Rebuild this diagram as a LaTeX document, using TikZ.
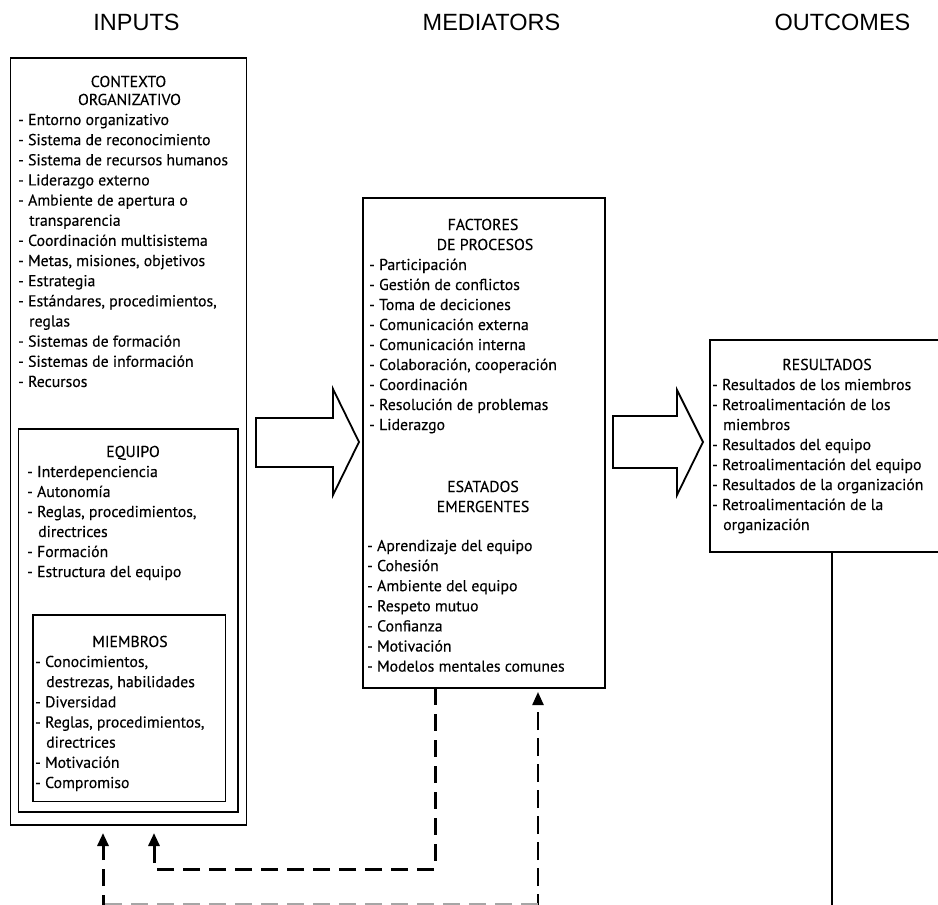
\documentclass[tikz,border=0pt]{standalone}
\usepackage{fontspec}
\setmainfont{PT Sans}[FakeBold=0.25]
\newfontfamily\headfont{Liberation Sans}
\usetikzlibrary{arrows.meta}
\begin{document}
\begin{tikzpicture}[x=1pt,y=-1pt,
  box/.style={draw, line width=1.3pt, inner sep=0pt},
  itm/.style={anchor=base west, inner sep=0pt, font=\fontsize{15.8}{18}\selectfont},
  ttl/.style={anchor=base, inner sep=0pt, font=\fontsize{15.8}{18}\selectfont},
  hdr/.style={anchor=base, inner sep=0pt, font=\headfont\fontsize{23.5}{28}\selectfont},
  fb/.style={line width=3pt, dash pattern=on 17pt off 9pt, -{Triangle[length=13pt,width=11pt]}},
  fbthin/.style={line width=2.3pt, dash pattern=on 18pt off 8pt, -{Triangle[length=13pt,width=11pt]}},
  blk/.style={line width=1.8pt, line join=miter}]
\useasboundingbox (0,0) rectangle (938,905);
% headers
\node[hdr] (hin) at (136.5,30) {INPUTS};
\node[hdr] (hme) at (491.5,30) {MEDIATORS};
\node[hdr] (hou) at (842.5,30) {OUTCOMES};
% boxes
\node[box, minimum width=236pt, minimum height=767pt] (ctx) at (128.5,441.5) {};
\node[box, minimum width=219.5pt, minimum height=383pt] (eq) at (128.25,620.5) {};
\node[box, minimum width=192.5pt, minimum height=186.5pt] (mie) at (129.25,708.25) {};
\node[box, minimum width=242pt, minimum height=490pt] (med) at (484,443) {};
\node[box, minimum width=250pt, minimum height=212pt] (res) at (835,446) {};
% titles
\node[ttl] (tctx1) at (128.5,87) {CONTEXTO};
\node[ttl] (tctx2) at (129.5,105) {ORGANIZATIVO};
\node[ttl] (teq) at (133,457) {EQUIPO};
\node[ttl] (tmie) at (130,647) {MIEMBROS};
\node[ttl] (tfac1) at (483,230) {FACTORES};
\node[ttl] (tfac2) at (485,250) {DE PROCESOS};
\node[ttl] (tem1) at (483,492) {ESATADOS};
\node[ttl] (tem2) at (483,512) {EMERGENTES};
\node[ttl] (tres) at (827,370) {RESULTADOS};
% items
\foreach \t [count=\i] in {{- Entorno organizativo},{- Sistema de reconocimiento},{- Sistema de recursos humanos},{- Liderazgo externo},{- Ambiente de apertura o},{\hspace*{11pt}transparencia},{- Coordinación multisistema},{- Metas, misiones, objetivos},{- Estrategia},{- Estándares, procedimientos,},{\hspace*{11pt}reglas},{- Sistemas de formación},{- Sistemas de información},{- Recursos}}
  \node[itm] (ci\i) at (18,{125+20.15*(\i-1)}) {\t};
\foreach \t [count=\i] in {{- Interdepenciencia},{- Autonomía},{- Reglas, procedimientos,},{\hspace*{11pt}directrices},{- Formación},{- Estructura del equipo}}
  \node[itm] (ei\i) at (27,{477+20*(\i-1)}) {\t};
\foreach \t [count=\i] in {{- Conocimientos,},{\hspace*{11pt}destrezas, habilidades},{- Diversidad},{- Reglas, procedimientos,},{\hspace*{11pt}directrices},{- Motivación},{- Compromiso}}
  \node[itm] (mi\i) at (35,{667+20.17*(\i-1)}) {\t};
\foreach \t [count=\i] in {{- Participación},{- Gestión de conflictos},{- Toma de deciciones},{- Comunicación externa},{- Comunicación interna},{- Colaboración, cooperación},{- Coordinación},{- Resolución de problemas},{- Liderazgo}}
  \node[itm] (fi\i) at (369,{270+20*(\i-1)}) {\t};
\foreach \t [count=\i] in {{- Aprendizaje del equipo},{- Cohesión},{- Ambiente del equipo},{- Respeto mutuo},{- Confianza},{- Motivación},{- Modelos mentales comunes}}
  \node[itm] (si\i) at (367,{551+20.1*(\i-1)}) {\t};
\foreach \t [count=\i] in {{- Resultados de los miembros},{- Retroalimentación de los},{\hspace*{11pt}miembros},{- Resultados del equipo},{- Retroalimentación del equipo},{- Resultados de la organización},{- Retroalimentación de la},{\hspace*{11pt}organización}}
  \node[itm] (ri\i) at (712,{390+20*(\i-1)}) {\t};
% block arrows
\draw[blk] (256,418) -- (333,418) -- (333,389) -- (359,442) -- (333,495) -- (333,467) -- (256,467) -- cycle;
\draw[blk] (613,416) -- (677,416) -- (677,390) -- (703,442) -- (677,495) -- (677,468) -- (613,468) -- cycle;
% feedback connectors
\coordinate (a1s) at (103,912);
\coordinate (a1e) at (103,833);
\coordinate (p1) at (435,688);
\coordinate (q1) at (435,869);
\coordinate (q2) at (154,869);
\coordinate (p2) at (154,833);
\coordinate (r1) at (538,912);
\coordinate (r2) at (538,692);
\coordinate (g1) at (538,904);
\coordinate (g2) at (103,904);
\coordinate (s1) at (832,552);
\coordinate (s2) at (832,912);
\draw[fb] (a1s) -- (a1e);
\draw[fb] (p1) -- (q1) -- (q2) -- (p2);
\draw[fbthin] (r1) -- (r2);
\draw[line width=1.5pt, black!35, dash pattern=on 17pt off 9pt] (g1) -- (g2);
\draw[line width=1.8pt] (s1) -- (s2);
\end{tikzpicture}
\end{document}
